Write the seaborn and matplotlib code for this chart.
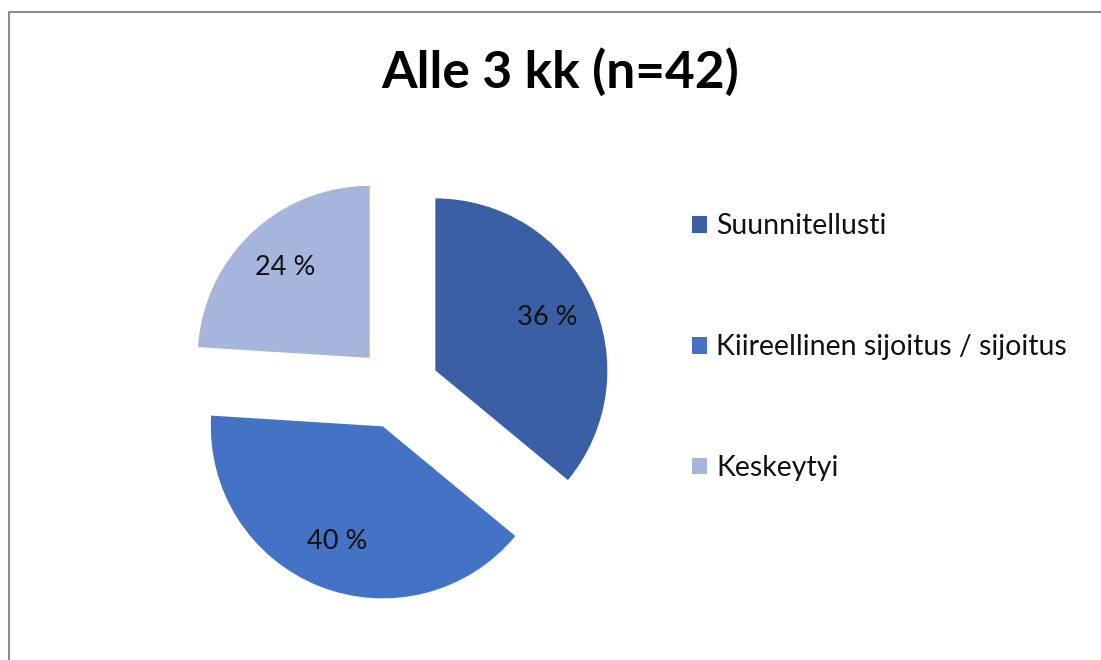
import matplotlib
matplotlib.use("Agg")
import matplotlib.pyplot as plt
import seaborn as sns
import numpy as np
from matplotlib.lines import Line2D

categories = ["Suunnitellusti", "Kiireellinen sijoitus / sijoitus", "Keskeytyi"]
shares = [36, 40, 24]
pct_labels = ["36 %", "40 %", "24 %"]
colors = ["#3A5FA5", "#4472C4", "#A5B5DC"]
title = "Alle 3 kk (n=42)"

sns.set_theme(style="white")
plt.rcParams["font.family"] = ["Lato", "DejaVu Sans"]

W, H = 1101, 660
fig = plt.figure(figsize=(W / 100, H / 100), dpi=100)
fig.patch.set_facecolor("white")

# pie axes: centre at (398, 388) px, radius 172 px
R = 172
half = 220
cx, cy = 398, 388
ax = fig.add_axes([(cx - half) / W, (H - cy - half) / H, 2 * half / W, 2 * half / H])
wedges, texts = ax.pie(
    shares,
    colors=colors,
    startangle=90,
    counterclock=False,
    explode=[0.24, 0.24, 0.24],
    radius=1.0,
    wedgeprops=dict(linewidth=0),
)
lim = half / R
ax.set_xlim(-lim, lim)
ax.set_ylim(-lim, lim)
ax.set_aspect("equal")
ax.axis("off")

# percentage labels at 0.72 radius from each exploded centre
for w, lab in zip(wedges, pct_labels):
    ang = np.deg2rad((w.theta1 + w.theta2) / 2)
    ox, oy = w.center
    ax.text(ox + 0.72 * np.cos(ang), oy + 0.72 * np.sin(ang), lab,
            ha="center", va="center", fontsize=19.5, color="#111111")

fig.text(560 / W, 1 - 72 / H, title, ha="center", va="center",
         fontsize=37, fontweight="bold", color="black")

leg = fig.legend(
    wedges, categories,
    loc="upper left",
    bbox_to_anchor=(692 / W, 1 - 213.5 / H),
    frameon=False,
    fontsize=20.5,
    labelspacing=3.33,
    handlelength=0.53,
    handleheight=0.53,
    handletextpad=0.32,
    borderaxespad=0,
    borderpad=0,
)
for t in leg.get_texts():
    t.set_color("#111111")

# outer border (top and left visible)
fig.add_artist(Line2D([8.5 / W, 8.5 / W], [0, 1 - 11.5 / H], transform=fig.transFigure,
                      color="#8c8c8c", linewidth=1.5))
fig.add_artist(Line2D([8.5 / W, 1], [1 - 11.5 / H, 1 - 11.5 / H], transform=fig.transFigure,
                      color="#8c8c8c", linewidth=1.5))

fig.savefig("out.png", dpi=100, facecolor="white")
